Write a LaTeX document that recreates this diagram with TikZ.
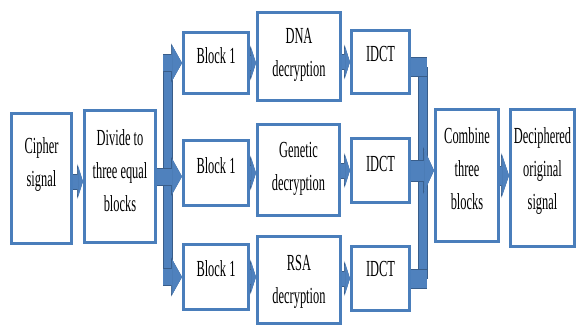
\documentclass[tikz,border=0pt]{standalone}
\usepackage{fontspec}
\setmainfont[FakeStretch=0.54]{Liberation Serif}
\usetikzlibrary{arrows.meta}
\definecolor{boxblue}{RGB}{74,126,187}
\definecolor{fillblue}{RGB}{79,129,189}
\definecolor{darkblue}{RGB}{56,93,138}
\newcommand{\boxtxt}[2]{\raisebox{#1}[\height][\depth]{\begin{tabular}{@{}c@{}}#2\end{tabular}}}
\begin{document}
\begin{tikzpicture}[x=1pt,y=-1pt,
  blk/.style 2 args={draw=boxblue, line width=3pt, fill=white, inner sep=0pt,
    minimum width=#1pt, minimum height=#2pt, font=\fontsize{23}{33}\selectfont},
  bigarr/.style={draw=fillblue, line width=16pt,
    -{Triangle[length=10pt,width=36pt,line width=0.6pt]},
    preaction={draw=darkblue, line width=18pt, -{Triangle[length=11pt,width=39pt,line width=0.6pt]}}},
  smallarr/.style={draw=fillblue, line width=14pt,
    -{Triangle[length=5pt,width=32pt,line width=0.6pt]},
    preaction={draw=darkblue, line width=16pt, -{Triangle[length=6pt,width=35pt,line width=0.6pt]}}},
  rarr/.style={draw=fillblue, line width=20pt,
    -{Triangle[length=10pt,width=44pt,line width=0.6pt]},
    preaction={draw=darkblue, line width=22pt, -{Triangle[length=11pt,width=47pt,line width=0.6pt]}}},
  outarr/.style={draw=fillblue, line width=18pt,
    -{Triangle[length=7pt,width=42pt,line width=0.6pt]},
    preaction={draw=darkblue, line width=20pt, -{Triangle[length=8pt,width=45pt,line width=0.6pt]}}},
  bus/.style={draw=fillblue, line width=8pt, preaction={draw=darkblue, line width=10pt}},
  stub/.style={draw=fillblue, line width=18pt, preaction={draw=darkblue, line width=20pt}}
]
\useasboundingbox (0,0) rectangle (579,327);

% boxes
\node[blk={60}{130}] (cipher) at (41.5,178.5) {\boxtxt{15pt}{Cipher\\signal}};
\node[blk={71}{132}] (divide) at (120,176.5) {\boxtxt{5pt}{Divide to\\three equal\\blocks}};

\node[blk={65}{61}] (b1) at (216,63) {\boxtxt{6pt}{Block 1}};
\node[blk={83}{88}] (dna) at (299,56.5) {\boxtxt{3.5pt}{DNA\\decryption}};
\node[blk={58}{63}] (idct1) at (380.5,62) {\boxtxt{7.5pt}{IDCT}};

\node[blk={65}{65}] (b2) at (216,173) {\boxtxt{6pt}{Block 1}};
\node[blk={82}{91}] (gen) at (298.5,170) {\boxtxt{3pt}{Genetic\\decryption}};
\node[blk={58}{64}] (idct2) at (380.5,170.5) {\boxtxt{5.5pt}{IDCT}};

\node[blk={65}{65}] (b3) at (216,277) {\boxtxt{7pt}{Block 1}};
\node[blk={83}{87}] (rsa) at (299,280) {\boxtxt{0pt}{RSA\\decryption}};
\node[blk={58}{64}] (idct3) at (380.5,278.5) {\boxtxt{8.5pt}{IDCT}};

\node[blk={63}{132}] (combine) at (467,175.5) {\boxtxt{5.5pt}{Combine\\three\\blocks}};
\node[blk={64}{137}] (deciph) at (542.5,178) {\boxtxt{8.5pt}{Deciphered\\original\\signal}};

% bus coordinates
\coordinate (busx) at (167.5,0);
\coordinate (busL) at (163,0);
\coordinate (rbus) at (422.5,0);
\coordinate (rbusR) at (427,0);
\coordinate (rtop) at ([yshift=-5pt]idct1.east);

% input side
\draw[smallarr] ([yshift=-3pt]cipher.east) -- ([yshift=-3pt]cipher.east -| divide.west);
\draw[bus] (b1.west -| busx) -- (b3.west -| busx);
\draw[bigarr] (b1.west -| busL) -- (b1.west);
\draw[bigarr] (b3.west -| busL) -- (b3.west);
\draw[bigarr] (divide.east) -- (divide.east -| b2.west);

% rows
\draw[smallarr] (b1.east) -- (b1.east -| dna.west);
\draw[smallarr] (idct1.west -| dna.east) -- (idct1.west);
\draw[smallarr] (b2.east) -- (b2.east -| gen.west);
\draw[smallarr] (idct2.west -| gen.east) -- (idct2.west);
\draw[smallarr] (b3.east) -- (b3.east -| rsa.west);
\draw[smallarr] (idct3.west -| rsa.east) -- (idct3.west);

% output side
\draw[bus] (rtop -| rbus) -- (idct3.east -| rbus);
\draw[stub] (rtop -| idct1.east) -- (rtop -| rbusR);
\draw[stub] (idct3.east) -- (idct3.east -| rbusR);
\draw[rarr] (idct2.east) -- (idct2.east -| combine.west);
\draw[outarr] (combine.east) -- (combine.east -| deciph.west);
\end{tikzpicture}
\end{document}
